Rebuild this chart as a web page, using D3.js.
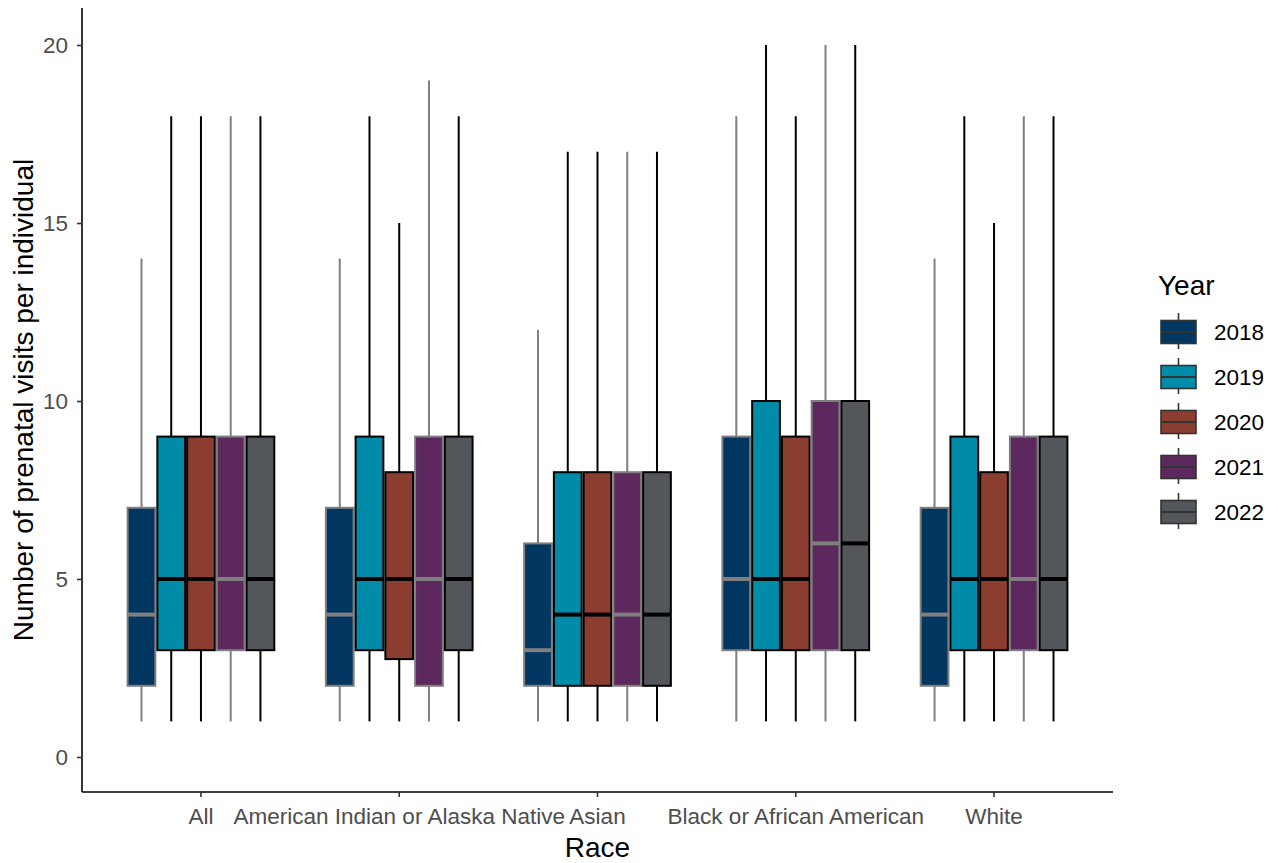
<!DOCTYPE html>
<html>
<head>
<meta charset="utf-8">
<script src="https://cdn.jsdelivr.net/npm/d3@7"></script>
<style>
body { margin: 0; background: #fff; }
text { font-family: "Liberation Sans", Arial, sans-serif; }
</style>
</head>
<body>
<div id="viz"></div>
<script>
races = ['All', 'American Indian or Alaska Native', 'Asian', 'Black or African American', 'White'];
years = ['2018', '2019', '2020', '2021', '2022'];
colors = ['#00365f', '#008ca9', '#8b3e2f', '#5d285d', '#53565a'];
outlines = ['#7f7f7f', '#000', '#000', '#7f7f7f', '#000'];
yTicks = [0, 5, 10, 15, 20];

// [min, q1, median, q3, max] per race, one row per year
stats = {
	'All': [[1, 2, 4, 7, 14], [1, 3, 5, 9, 18], [1, 3, 5, 9, 18], [1, 3, 5, 9, 18], [1, 3, 5, 9, 18]],
	'American Indian or Alaska Native': [[1, 2, 4, 7, 14], [1, 3, 5, 9, 18], [1, 2.75, 5, 8, 15], [1, 2, 5, 9, 19], [1, 3, 5, 9, 18]],
	'Asian': [[1, 2, 3, 6, 12], [1, 2, 4, 8, 17], [1, 2, 4, 8, 17], [1, 2, 4, 8, 17], [1, 2, 4, 8, 17]],
	'Black or African American': [[1, 3, 5, 9, 18], [1, 3, 5, 10, 20], [1, 3, 5, 9, 18], [1, 3, 6, 10, 20], [1, 3, 6, 10, 20]],
	'White': [[1, 2, 4, 7, 14], [1, 3, 5, 9, 18], [1, 3, 5, 8, 15], [1, 3, 5, 9, 18], [1, 3, 5, 9, 18]]
};

data = [];
races.forEach(function(r) {
	stats[r].forEach(function(s, i) {
		data.push({race: r, year: years[i], yi: i, min: s[0], q1: s[1], med: s[2], q3: s[3], max: s[4]});
	});
});

width = 1278;
height = 863;
// panel edges
pLeft = 82; pRight = 1113; pTop = 8; pBottom = 792;
tickFont = '22.5px';
titleFont = '28px';

svg = d3.select('#viz').append('svg')
	.attr('width', width)
	.attr('height', height);

// discrete scale with ggplot-like 0.6 expansion on each side
step = (pRight - pLeft) / 5.2;
xScale = d3.scaleBand()
	.domain(races)
	.range([pLeft + 0.1 * step, pRight - 0.1 * step])
	.padding(0);

yScale = d3.scaleLinear().domain([0, 20]).range([757, 45]);

dodge = d3.scaleBand()
	.domain(years)
	.range([-0.375 * step, 0.375 * step]);
bw = dodge.bandwidth();

g = svg.append('g');

boxes = g.selectAll('g.box')
	.data(data)
	.enter()
	.append('g')
	.attr('class', 'box')
	.attr('transform', d => 'translate(' + (xScale(d.race) + xScale.bandwidth() / 2 + dodge(d.year)) + ',0)');

boxes.append('line')
	.attr('x1', bw / 2).attr('x2', bw / 2)
	.attr('y1', d => yScale(d.max)).attr('y2', d => yScale(d.q3))
	.attr('stroke', d => outlines[d.yi]).attr('stroke-width', 2);
boxes.append('line')
	.attr('x1', bw / 2).attr('x2', bw / 2)
	.attr('y1', d => yScale(d.q1)).attr('y2', d => yScale(d.min))
	.attr('stroke', d => outlines[d.yi]).attr('stroke-width', 2);
boxes.append('rect')
	.attr('x', 1).attr('width', bw - 2)
	.attr('y', d => yScale(d.q3))
	.attr('height', d => yScale(d.q1) - yScale(d.q3))
	.attr('fill', d => colors[d.yi])
	.attr('stroke', d => outlines[d.yi]).attr('stroke-width', 2);
boxes.append('line')
	.attr('x1', 1).attr('x2', bw - 1)
	.attr('y1', d => yScale(d.med)).attr('y2', d => yScale(d.med))
	.attr('stroke', d => outlines[d.yi]).attr('stroke-width', 4);

// axes
yAxis = svg.append('g')
	.attr('transform', 'translate(' + pLeft + ',0)')
	.call(d3.axisLeft(yScale).tickValues(yTicks).tickSize(5).tickPadding(9));
yAxis.select('.domain').attr('d', 'M0,' + pTop + 'V' + pBottom).attr('stroke', '#000').attr('stroke-width', 1.6);
yAxis.selectAll('.tick line').attr('stroke', '#333').attr('stroke-width', 1.6);
yAxis.selectAll('.tick text').attr('fill', '#4d4d4d').style('font-size', tickFont);

xAxis = svg.append('g')
	.attr('transform', 'translate(0,' + pBottom + ')')
	.call(d3.axisBottom(xScale).tickSize(5).tickPadding(11));
xAxis.select('.domain').attr('d', 'M' + pLeft + ',0H' + pRight).attr('stroke', '#000').attr('stroke-width', 1.6);
xAxis.selectAll('.tick line').attr('stroke', '#333').attr('stroke-width', 1.6);
xAxis.selectAll('.tick text').attr('fill', '#4d4d4d').style('font-size', tickFont);

svg.append('text')
	.attr('x', (pLeft + pRight) / 2)
	.attr('y', 857)
	.attr('text-anchor', 'middle')
	.style('font-size', titleFont)
	.text('Race');

svg.append('text')
	.attr('transform', 'translate(33,' + ((pTop + pBottom) / 2) + ') rotate(-90)')
	.attr('text-anchor', 'middle')
	.style('font-size', titleFont)
	.text('Number of prenatal visits per individual');

// legend
legend = svg.append('g').attr('transform', 'translate(1161,0)');
legend.append('text')
	.attr('x', -3).attr('y', 295)
	.style('font-size', titleFont)
	.text('Year');

keys = legend.selectAll('g.key')
	.data(years)
	.enter()
	.append('g')
	.attr('class', 'key')
	.attr('transform', (d, i) => 'translate(0,' + (332 + i * 45) + ')');
keys.append('line')
	.attr('x1', 17.5).attr('x2', 17.5).attr('y1', -19).attr('y2', 17)
	.attr('stroke', '#333').attr('stroke-width', 1.6);
keys.append('rect')
	.attr('x', 0).attr('y', -11.5).attr('width', 35).attr('height', 23)
	.attr('fill', (d, i) => colors[i])
	.attr('stroke', '#333').attr('stroke-width', 1.6);
keys.append('line')
	.attr('x1', 0).attr('x2', 35).attr('y1', 0).attr('y2', 0)
	.attr('stroke', '#333').attr('stroke-width', 2);
keys.append('text')
	.attr('x', 53).attr('y', 8)
	.style('font-size', tickFont)
	.text(d => d);
</script>
</body>
</html>
